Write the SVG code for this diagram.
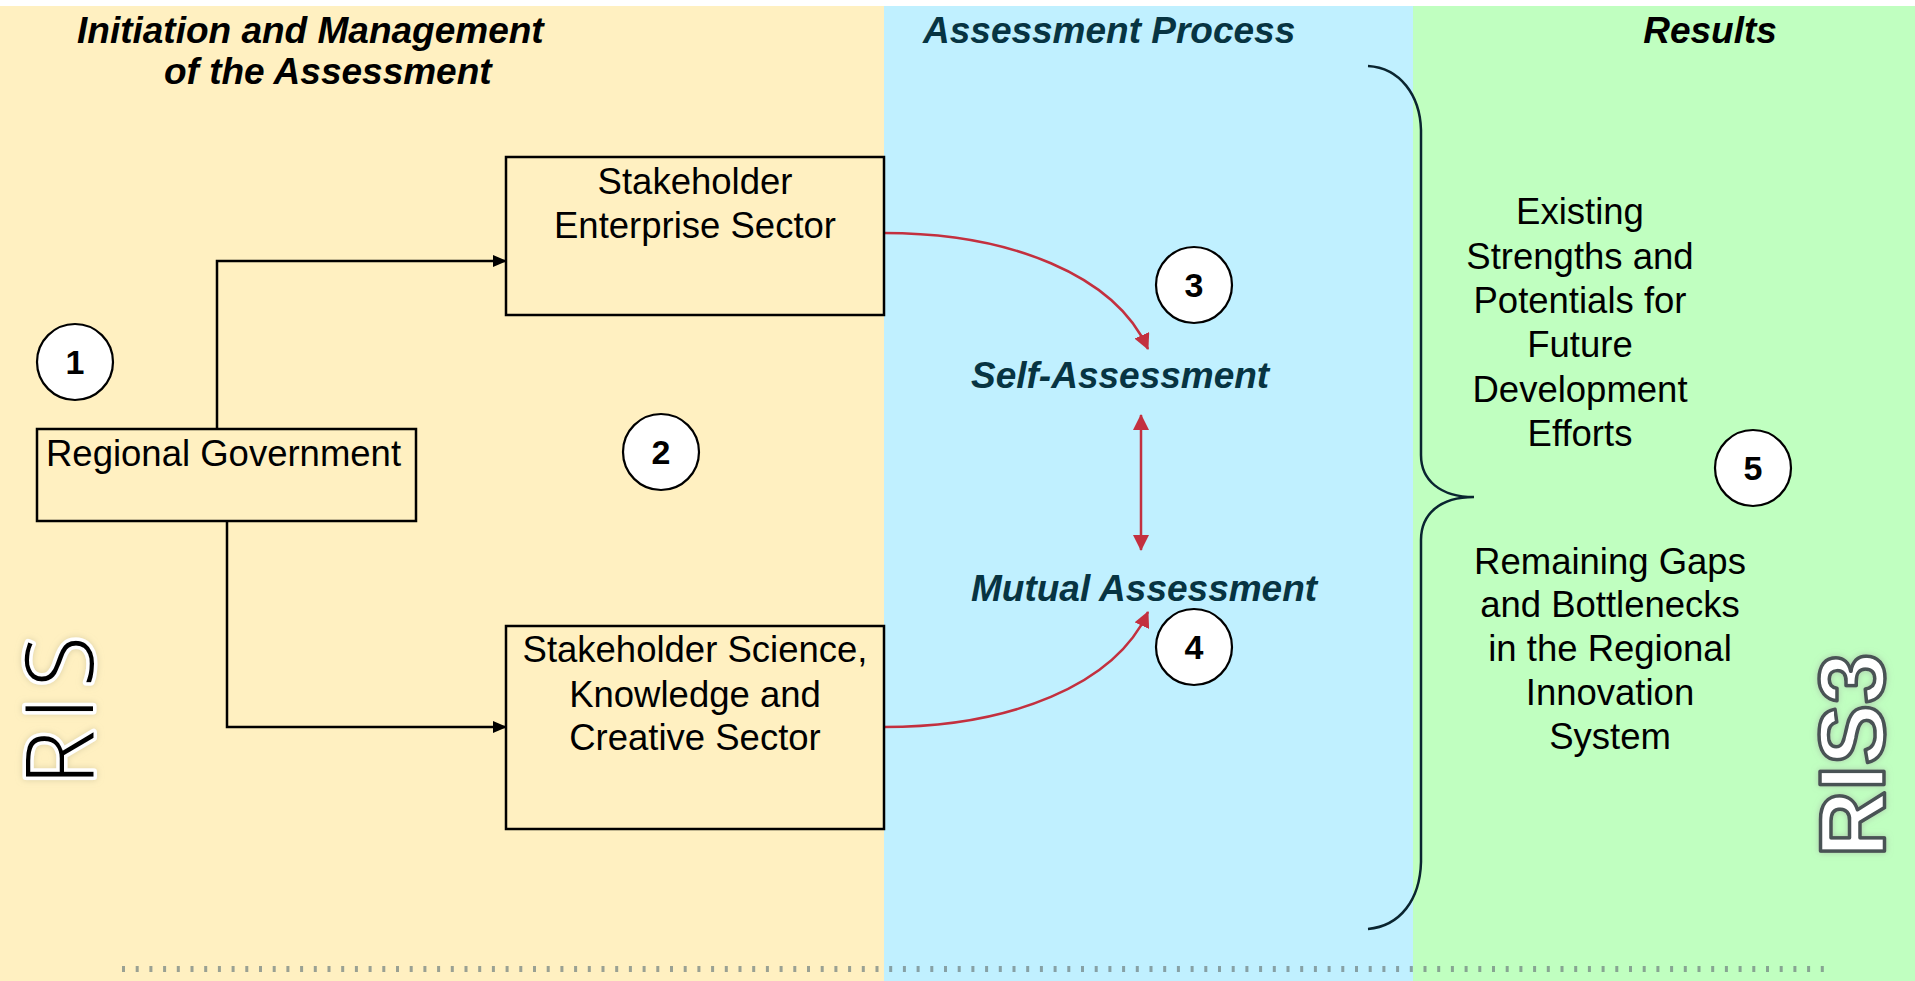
<svg xmlns="http://www.w3.org/2000/svg" width="1915" height="981" viewBox="0 0 1915 981">
<style>
.t{font-family:"Liberation Sans",Arial,sans-serif;font-size:36.5px;fill:#000}
.h{font-family:"Liberation Sans",Arial,sans-serif;font-size:37px;font-weight:bold;font-style:italic}
.box{fill:none;stroke:#000;stroke-width:2.5}
.num{fill:#fff;stroke:#000;stroke-width:2.2}
.nt{font-family:"Liberation Sans",Arial,sans-serif;font-size:34px;font-weight:bold;text-anchor:middle;fill:#000}
.blk{fill:none;stroke:#000;stroke-width:2.5}
.red{fill:none;stroke:#C3303F;stroke-width:2.5}
.c{text-anchor:middle}
</style>
<defs>
<marker id="ab" markerUnits="userSpaceOnUse" markerWidth="14" markerHeight="12" refX="13" refY="6" orient="auto"><path d="M0,0 L14,6 L0,12 z" fill="#000"/></marker>
<marker id="ar" markerUnits="userSpaceOnUse" markerWidth="16" markerHeight="16" refX="15" refY="8" orient="auto-start-reverse"><path d="M0,0 L16,8 L0,16 z" fill="#C3303F"/></marker>
<filter id="sh" x="-30%" y="-30%" width="160%" height="160%"><feGaussianBlur in="SourceAlpha" stdDeviation="3"/><feColorMatrix values="0 0 0 0 0.55 0 0 0 0 0.5 0 0 0 0 0.3 0 0 0 0.6 0"/><feMerge><feMergeNode/><feMergeNode in="SourceGraphic"/></feMerge></filter>
<filter id="sh2" x="-30%" y="-30%" width="160%" height="160%"><feGaussianBlur in="SourceAlpha" stdDeviation="3"/><feColorMatrix values="0 0 0 0 0.35 0 0 0 0 0.4 0 0 0 0 0.35 0 0 0 0.6 0"/><feMerge><feMergeNode/><feMergeNode in="SourceGraphic"/></feMerge></filter>
</defs>
<rect x="0" y="0" width="1915" height="981" fill="#fff"/>
<g id="panels">
<rect x="0" y="6" width="884" height="975" fill="#FFF0C1"/>
<rect x="884" y="6" width="529" height="975" fill="#C0F0FF"/>
<rect x="1413" y="6" width="502" height="975" fill="#C0FFC0"/>
<line x1="122" y1="969" x2="1830" y2="969" stroke="#6f7f7f" stroke-opacity="0.7" stroke-width="6" stroke-dasharray="3 10.7"/>
</g>
<g id="headers">
<text class="h" x="77" y="43" fill="#000">Initiation and Management</text>
<text class="h" x="164" y="84" fill="#000">of the Assessment</text>
<text class="h" x="923" y="43" fill="#073442">Assessment Process</text>
<text class="h c" x="1710" y="43" fill="#000">Results</text>
</g>
<g id="side-labels">
<text transform="translate(93,711) rotate(-90)" text-anchor="middle" font-family="Open Sans, Liberation Sans, sans-serif" font-weight="300" font-size="94" textLength="150" lengthAdjust="spacing" fill="#000" stroke="#fff" stroke-width="7" paint-order="stroke" stroke-linejoin="round" filter="url(#sh)">RIS</text>
<text transform="translate(1884,755) rotate(-90)" text-anchor="middle" font-family="Liberation Sans, Arial, sans-serif" font-weight="bold" font-size="92" fill="#fff" stroke="#4a5254" stroke-width="3.5" stroke-linejoin="round" filter="url(#sh2)">RIS3</text>
</g>
<g id="connectors">
<path class="blk" d="M217 429 V261 H506" marker-end="url(#ab)"/>
<path class="blk" d="M227 521 V727 H506" marker-end="url(#ab)"/>
<path class="red" d="M884 233 C1010 233 1115 275 1148 349" marker-end="url(#ar)"/>
<path class="red" d="M884 727 C1010 727 1115 685 1148 612" marker-end="url(#ar)"/>
<path class="red" d="M1141 415 V550" marker-start="url(#ar)" marker-end="url(#ar)"/>
<path d="M1368 66 C1400 68 1420 95 1421 130 L1421 455 C1421 480 1440 497 1474 497 C1440 497 1421 514 1421 540 L1421 862 C1420 900 1400 926 1368 929" fill="none" stroke="#0a2530" stroke-width="2.5"/>
</g>
<g id="n-enterprise">
<rect class="box" x="506" y="157" width="378" height="158"/>
<text class="t c" x="695" y="194">Stakeholder</text>
<text class="t c" x="695" y="238">Enterprise Sector</text>
</g>
<g id="n-government">
<rect class="box" x="37" y="429" width="379" height="92"/>
<text class="t" x="46" y="466">Regional Government</text>
</g>
<g id="n-science">
<rect class="box" x="506" y="626" width="378" height="203"/>
<text class="t c" x="695" y="662">Stakeholder Science,</text>
<text class="t c" x="695" y="707">Knowledge and</text>
<text class="t c" x="695" y="750">Creative Sector</text>
</g>
<g id="n-self">
<text class="h" x="971" y="388" fill="#073442">Self-Assessment</text>
</g>
<g id="n-mutual">
<text class="h" x="971" y="601" fill="#073442">Mutual Assessment</text>
</g>
<g id="n-strengths">
<text class="t c" x="1580" y="224">Existing</text>
<text class="t c" x="1580" y="269">Strengths and</text>
<text class="t c" x="1580" y="313">Potentials for</text>
<text class="t c" x="1580" y="357">Future</text>
<text class="t c" x="1580" y="402">Development</text>
<text class="t c" x="1580" y="446">Efforts</text>
</g>
<g id="n-gaps">
<text class="t c" x="1610" y="574">Remaining Gaps</text>
<text class="t c" x="1610" y="617">and Bottlenecks</text>
<text class="t c" x="1610" y="661">in the Regional</text>
<text class="t c" x="1610" y="705">Innovation</text>
<text class="t c" x="1610" y="749">System</text>
</g>
<g id="c1"><circle class="num" cx="75" cy="362" r="38"/><text class="nt" x="75" y="374">1</text></g>
<g id="c2"><circle class="num" cx="661" cy="452" r="38"/><text class="nt" x="661" y="464">2</text></g>
<g id="c3"><circle class="num" cx="1194" cy="285" r="38"/><text class="nt" x="1194" y="297">3</text></g>
<g id="c4"><circle class="num" cx="1194" cy="647" r="38"/><text class="nt" x="1194" y="659">4</text></g>
<g id="c5"><circle class="num" cx="1753" cy="468" r="38"/><text class="nt" x="1753" y="480">5</text></g>
</svg>
